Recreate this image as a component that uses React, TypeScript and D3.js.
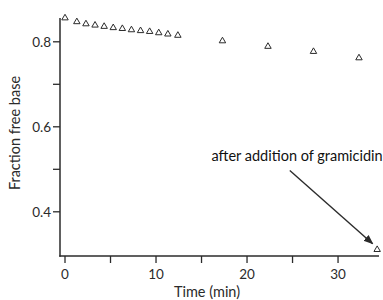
import { useMemo } from 'react';
import * as d3 from 'd3';

// Time (min) and fraction of free base
const TIMES = [0, 1.3, 2.3, 3.3, 4.3, 5.3, 6.3, 7.3, 8.3, 9.3, 10.3, 11.3, 12.4, 17.3, 22.3, 27.3, 32.3, 34.3];
const FRACTIONS = [0.856, 0.847, 0.842, 0.839, 0.836, 0.833, 0.831, 0.828, 0.826, 0.824, 0.821, 0.818, 0.815, 0.802, 0.789, 0.777, 0.762, 0.311];

const X_TICKS = [0, 10, 20, 30];
const X_MINOR = [5, 15, 25];
const Y_TICKS = [0.4, 0.6, 0.8];
const Y_MINOR = [0.5, 0.7];

const NOTE = 'after addition of gramicidin';
const NOTE_AT = [25.5, 0.52];
const ARROW_FROM = [24.7, 0.497];
const ARROW_TO = [33.8, 0.325];

const W = 383;
const H = 300;
const INK = '#2b2b2b';
const FONT = 'Lato, "Open Sans", sans-serif';

export default function App() {
  const x = useMemo(() => d3.scaleLinear().domain([-0.55, 34.5]).range([60, 379]), []);
  const y = useMemo(() => d3.scaleLinear().domain([0.296, 0.856]).range([256, 18]), []);

  const tri = d3.symbol().type(d3.symbolTriangle).size(18)() ?? '';
  const [x0, x1] = x.range();
  const [y0, y1] = y.range();

  return (
    <svg
      width={W}
      height={H}
      style={{ position: 'absolute', left: 0, top: 0, background: '#fff' }}
      fontFamily={FONT}
    >
      <defs>
        <marker id="head" viewBox="0 0 10 10" refX="9" refY="5" markerWidth="7" markerHeight="7" orient="auto">
          <path d="M0,1 L10,5 L0,9 Z" fill={INK} />
        </marker>
      </defs>

      {/* axes */}
      <line x1={x0} x2={x0} y1={y1} y2={y0 + 0.75} stroke={INK} strokeWidth={1.5} />
      <line x1={x0 - 0.75} x2={x1} y1={y0} y2={y0} stroke={INK} strokeWidth={1.5} />

      {[...Y_TICKS, ...Y_MINOR].map((v) => (
        <line key={`yt${v}`} x1={x0 - 7} x2={x0} y1={y(v)} y2={y(v)} stroke={INK} strokeWidth={1.3} />
      ))}
      {Y_TICKS.map((v) => (
        <text key={`yl${v}`} x={x0 - 9} y={y(v)} dy="0.35em" textAnchor="end" fontSize={13.5} fill={INK}>
          {d3.format('.1f')(v)}
        </text>
      ))}

      {[...X_TICKS, ...X_MINOR].map((v) => (
        <line key={`xt${v}`} x1={x(v)} x2={x(v)} y1={y0} y2={y0 + 7} stroke={INK} strokeWidth={1.3} />
      ))}
      {X_TICKS.map((v) => (
        <text key={`xl${v}`} x={x(v)} y={y0 + 23} textAnchor="middle" fontSize={13.5} fill={INK}>
          {v}
        </text>
      ))}

      <text x={207} y={297} textAnchor="middle" fontSize={14.5} fill={INK}>Time (min)</text>
      <text
        transform={`translate(20,133) rotate(-90)`}
        textAnchor="middle"
        fontSize={14.5}
        fill={INK}
      >
        Fraction free base
      </text>

      {/* data */}
      {TIMES.map((t, i) => (
        <path
          key={i}
          d={tri}
          transform={`translate(${x(t)},${y(FRACTIONS[i])})`}
          fill="none"
          stroke={INK}
          strokeWidth={1}
        />
      ))}

      {/* annotation */}
      <text x={x(NOTE_AT[0])} y={y(NOTE_AT[1])} textAnchor="middle" fontSize={14.5} fill="#111">
        {NOTE}
      </text>
      <line
        x1={x(ARROW_FROM[0])}
        y1={y(ARROW_FROM[1])}
        x2={x(ARROW_TO[0])}
        y2={y(ARROW_TO[1])}
        stroke={INK}
        strokeWidth={1.4}
        markerEnd="url(#head)"
      />
    </svg>
  );
}
